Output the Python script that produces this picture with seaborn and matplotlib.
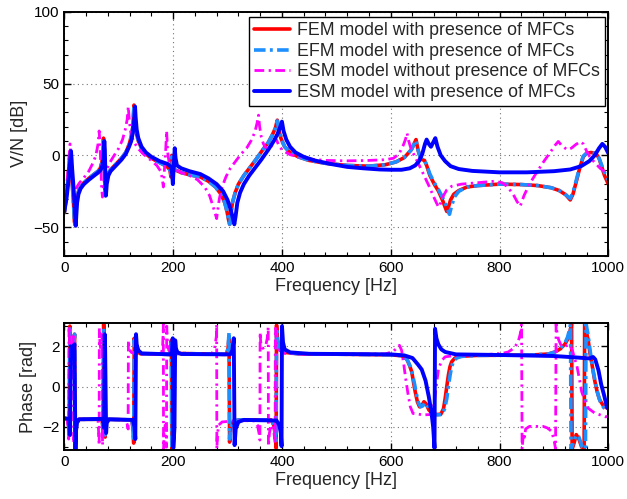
import numpy as np
import pandas as pd
import matplotlib
matplotlib.use("Agg")
import matplotlib.pyplot as plt
import seaborn as sns

# ---------------- magnitude (dB) ----------------
fem_mag_hz = [0, 3, 6, 8, 9.5, 10.5, 11.5, 13, 15, 17, 18.5, 19.5, 21, 23, 26, 30, 36, 45, 55, 62,
              66, 69, 71, 72, 73, 74, 75, 77, 80, 85, 95, 105, 113, 119, 123, 126, 128, 129.5, 132, 136,
              142, 150, 160, 175, 188, 194, 196, 197.5, 199, 203, 215, 230, 250, 265, 278, 288, 295, 299,
              302, 304, 306, 309, 314, 320, 330, 340, 352, 365, 375, 382, 388, 391.5, 394, 398, 405, 415,
              430, 450, 480, 520, 560, 590, 610, 625, 638, 643, 646.5, 650, 654, 658, 662, 666, 672, 680,
              688, 695, 700, 703, 706, 710, 716, 725, 740, 760, 800, 840, 870, 895, 910, 922, 930, 935,
              942, 948, 954, 960, 968, 977, 983, 988, 993, 1000]
fem_mag_db = [-40, -30, -20, -10, -3, 2, -3, -12, -22, -34, -46, -48, -38, -30, -25, -22, -19, -16, -13, -11,
              -9, -5, 2, 12, 3, -14, -28, -19, -13, -10, -6, -2, 2, 7.5, 13, 20, 35, 24, 16, 10,
              5, 1, -2, -5, -7.5, -10, -15, 0, -7, -10, -12, -13.5, -15, -18, -22, -27, -33, -39,
              -45, -48, -41, -33, -26, -20, -14, -9, -3, 4, 9, 14, 19, 24.5, 18, 12, 6, 2,
              -1, -3.5, -5.5, -7, -7.5, -6.5, -4.5, -1.5, 4, 8, 11, 4, -1, -3, -3.5, -7, -14, -20,
              -25, -31, -36, -39, -36, -31, -27, -24.5, -22, -21, -20, -20.3, -21, -22.5, -24.5, -27.5, -31, -27,
              -17, -8, -1, 1.5, 2, 1.5, -2, -8, -14, -20]

efm_mag_hz = [0, 3, 6, 8, 9.5, 10.5, 11.5, 13, 15, 17, 18.5, 19.5, 21, 23, 26, 30, 36, 45, 55, 62,
              66, 69, 71, 72, 73, 74, 75, 77, 80, 85, 95, 105, 113, 119, 123, 126, 128, 129.5, 132, 136,
              142, 150, 160, 175, 188, 194, 196, 197.5, 199, 203, 215, 230, 250, 265, 278, 288, 295, 299,
              302, 304, 306, 309, 314, 320, 330, 340, 352, 365, 375, 382, 388, 391.5, 394, 398, 405, 415,
              430, 450, 480, 520, 560, 590, 610, 625, 638, 643, 646.5, 650, 654, 658, 662, 666, 672, 680,
              688, 695, 700, 704, 708, 712, 717, 725, 740, 760, 800, 840, 870, 895, 910, 922, 930, 935,
              942, 948, 954, 960, 968, 977, 983, 988, 993, 1000]
efm_mag_db = [-40, -30, -20, -10, -3, 2, -3, -12, -22, -34, -46, -48, -38, -30, -25, -22, -19, -16, -13, -11,
              -9, -5, 2, 11, 3, -14, -28, -19, -13, -10, -6, -2, 2, 7.5, 13, 20, 33, 24, 16, 10,
              5, 1, -2, -5, -7.5, -10, -14, -1, -7, -10, -12, -13.5, -15, -18, -22, -27, -33, -39,
              -45, -48, -41, -33, -26, -20, -14, -9, -3, 4, 9, 14, 19, 24, 18, 12, 6, 2,
              -1, -3.5, -5.5, -7, -7.5, -6.5, -4.5, -1.5, 4, 8, 10.5, 4, -1, -3, -3.5, -6.5, -13, -19,
              -24, -29, -33, -37, -41, -35, -29, -25, -22, -21, -20, -20.3, -21, -22.5, -24.5, -27.5, -30, -26,
              -16, -7, -0.5, 1.5, 2, 1.5, -2, -7, -12, -17]

esm0_mag_hz = [0, 3, 6, 8, 9.5, 10.5, 11.5, 13, 15, 17, 18, 20, 23, 28, 35, 45, 53, 58, 62, 64,
               65.5, 67, 68.5, 70, 72, 76, 82, 90, 100, 107, 112, 115.5, 117.5, 119.5, 122, 127, 135, 145,
               158, 170, 177, 180, 182, 184, 186.5, 188, 190, 193, 200, 215, 230, 245, 258, 267, 273, 277,
               280, 282, 285, 290, 297, 305, 315, 325, 335, 343, 350, 354, 357, 359, 362, 366, 371, 375,
               379, 384, 388, 391, 395, 403, 415, 430, 450, 480, 520, 560, 590, 605, 615, 622, 627, 630,
               633, 637, 642, 650, 660, 670, 678, 684, 688, 692, 697, 703, 712, 730, 760, 790, 805, 815,
               825, 832, 838, 845, 855, 868, 880, 893, 902, 908, 914, 924, 932, 940, 948, 954, 960, 966,
               975, 985, 992, 1000]
esm0_mag_db = [-32, -24, -14, -5, 3, 8, 2, -8, -18, -28, -31, -27, -22, -19, -16, -11, -5, 0, 8, 17,
               8, -8, -22, -29, -20, -12, -6, -1, 5, 11, 18, 25, 34, 24, 16, 10, 5, 1,
               -3, -7, -11, -16, -22, -10, 5, 17, 2, -6, -9, -12, -14, -17, -22, -28, -35, -40,
               -44, -38, -30, -22, -15, -9, -4, 1, 5, 10, 16, 22, 28, 20, 13, 8, 5, 4,
               5, 9, 12, 10, 6, 3, 0.5, -1, -2.5, -3.5, -3.8, -3.5, -3, -2, 1, 6, 11, 15.5,
               10, 5, 1, -5, -13, -21, -28, -33, -36, -33, -28, -24, -21.5, -20, -19, -18, -19, -22,
               -27, -32, -35.4, -28, -20, -12, -5, 2, 7, 9.7, 7, 4, 5, 7.5, 9.5, 8, 3, -1,
               -5, -9, -11, -13]

esm_mag_hz = [0, 4, 7, 9, 10.5, 11.5, 12.3, 13.2, 14.5, 16.5, 18.5, 20, 21, 22, 23.5, 26, 30, 36, 45, 55,
              62, 67, 70, 72, 73.5, 74.5, 75.5, 76.5, 78, 81, 85, 95, 105, 113, 119, 123, 126, 128.5, 130, 131,
              133, 136, 142, 150, 160, 175, 190, 196, 198, 199.5, 201, 203, 204.5, 207, 215, 230, 250, 265,
              280, 292, 300, 306, 310, 312.5, 315, 318, 323, 330, 340, 350, 362, 375, 385, 392, 397, 400,
              403, 408, 415, 425, 440, 460, 490, 520, 550, 580, 600, 620, 635, 645, 652, 658, 663, 666,
              670, 674, 678, 682, 686, 692, 700, 710, 725, 750, 800, 850, 900, 930, 950, 965, 975, 983,
              989, 994, 1000]
esm_mag_db = [-39, -30, -20, -12, -5, 0, 3, -2, -10, -20, -32, -42, -49, -42, -33, -27, -23, -20, -17, -14,
              -12, -10, -7, -2, 10, 4, -15, -28, -20, -14, -11, -7, -3, 1, 6, 10, 16, 25, 34, 27,
              18, 12, 6, 2, -1, -4, -6, -8, -12, -20, -8, 5, -2, -7, -9, -11, -13, -16,
              -20, -25, -31, -38, -44, -48, -42, -33, -26, -20, -14, -9, -3, 4, 10, 15, 20, 23.5,
              17, 11, 6, 2, -1, -3.5, -6, -8, -9, -9.8, -10, -10, -9, -7, -4, 1, 8, 11,
              8, 6, 9, 12, 6, 0, -4, -7.5, -9.5, -10.8, -11.8, -11.8, -11, -9.8, -7.5, -4, 0, 5,
              8, 6, 1.5]

# ---------------- phase (rad) ----------------
fem_ph_hz = [0, 6, 8, 9, 10.2, 11, 13, 15.5, 17.5, 18.8, 19.8, 21, 23, 27, 69, 70.5, 71.3, 72.3, 73.3, 75,
             76.5, 80, 124, 126.5, 127.5, 128.5, 130, 133, 140, 194, 196, 196.8, 197.6, 198.5, 199.7, 201,
             205, 298, 301, 302.8, 303.8, 306, 311, 320, 380, 385, 388, 389.3, 390.1, 392, 396, 405, 430,
             600, 620, 629, 634, 638.6, 642, 645, 649, 653, 657, 661, 665, 670, 676, 684, 692, 697, 700,
             703, 706, 709, 712, 718, 726, 760, 860, 890, 902, 912, 920, 926, 930, 932.5, 933.5, 937, 941,
             946, 951, 955.5, 956.5, 959, 963, 966, 970, 975, 979, 984, 991, 1000]
fem_ph_rad = [-1.57, -1.6, -1.9, -2.4, 3.0, 2.4, 1.9, 1.8, 2.0, 2.6, -3.05, -2.3, -1.8, -1.62, -1.62, -1.9, -2.3, 3.1, 2.2, -2.5,
              -1.85, -1.62, -1.65, -2.1, -2.8, 2.4, 2.0, 1.75, 1.63, 1.6, 1.9, 2.3, -3.1, -2.5, 2.2, 1.8,
              1.65, 1.6, 1.9, 2.5, -2.75, -2.0, -1.72, -1.65, -1.65, -1.9, -2.4, -3.05, 3.05, 2.3, 1.85, 1.7, 1.63,
              1.58, 1.53, 1.39, 1.1, 0.74, 0.2, -0.25, -0.75, -1.0, -0.95, -0.75, -0.85, -1.15, -1.32, -1.38, -1.37, -1.1, -0.6,
              0.0, 0.57, 1.0, 1.23, 1.42, 1.5, 1.55, 1.57, 1.62, 1.72, 1.88, 2.1, 2.38, 2.8, 3.1, -3.1, -2.8, -2.38,
              -2.6, -3.0, -3.1, 3.1, 2.8, 2.3, 1.7, 1.1, 0.3, -0.2, -0.65, -0.95, -1.1]

efm_ph_hz = [0, 6, 8, 9, 10.2, 11, 13, 15.5, 17.5, 18.8, 19.8, 21, 23, 27, 69, 70.5, 71.3, 72.3, 73.3, 75,
             76.5, 80, 124, 126.5, 127.5, 128.5, 130, 133, 140, 194, 196, 196.8, 197.6, 198.5, 199.7, 201,
             205, 298, 301, 302.8, 303.8, 306, 311, 320, 380, 385, 388, 389.3, 390.1, 392, 396, 405, 430,
             600, 620, 630, 636, 640, 644, 647, 651, 655, 659, 663, 667, 672, 678, 686, 694, 699, 703,
             706, 709, 712, 715, 721, 730, 760, 860, 890, 902, 912, 920, 925, 928.5, 930.5, 931.5, 936, 941,
             946, 952, 958, 959, 962, 965, 968, 972, 977, 981, 986, 992, 1000]
efm_ph_rad = [-1.57, -1.6, -1.9, -2.4, 3.0, 2.4, 1.9, 1.8, 2.0, 2.6, -3.05, -2.3, -1.8, -1.62, -1.62, -1.9, -2.3, 2.9, 2.2, -2.4,
              -1.85, -1.62, -1.65, -2.1, -2.7, 2.3, 2.0, 1.75, 1.63, 1.6, 1.9, 2.3, -3.0, -2.5, 2.1, 1.8,
              1.65, 1.6, 1.9, 2.7, -2.6, -2.0, -1.72, -1.65, -1.65, -1.9, -2.4, -2.8, 2.9, 2.3, 1.85, 1.7, 1.63,
              1.58, 1.53, 1.35, 1.0, 0.6, 0.1, -0.35, -0.8, -1.0, -0.95, -0.8, -0.9, -1.2, -1.35, -1.4, -1.38, -1.1, -0.6,
              0.0, 0.55, 1.0, 1.23, 1.42, 1.5, 1.55, 1.57, 1.62, 1.72, 1.9, 2.15, 2.45, 2.8, 3.1, -3.1, -2.75, -2.4,
              -2.5, -3.0, -3.1, 3.1, 2.7, 2.1, 1.5, 0.8, 0.1, -0.4, -0.8, -1.05, -1.15]

esm0_ph_hz = [0, 5, 7, 8, 8.6, 9.5, 11, 13, 15.5, 16.5, 17.1, 18.5, 21, 26, 60, 62, 63.5, 64, 64.4, 65.5,
              67.5, 69, 69.8, 70.2, 71.5, 74, 80, 113, 116, 117.2, 117.8, 119, 123, 135, 178, 180.5, 181.6, 182,
              182.4, 183.5, 185.5, 187, 187.8, 188.2, 189.5, 192, 200, 270, 276, 279.5, 280, 280.4, 281.5, 284,
              290, 320, 350, 355, 358.5, 359.5, 359.9, 361, 365, 370, 373, 374.8, 375.2, 377, 380, 385, 387.5,
              388, 390, 395, 405, 450, 590, 605, 612, 616, 620, 624, 628, 632, 636, 641, 660, 675, 680,
              684, 688, 694, 700, 720, 780, 805, 816, 826, 834, 838, 840.5, 841.5, 843, 844.5, 846, 848, 855,
              880, 888, 895, 900, 903, 904, 906, 909, 914, 920, 928, 934, 938, 942, 946, 951, 957, 963,
              975, 987, 995, 1000]
esm0_ph_rad = [-1.57, -1.6, -2.0, -2.6, 3.0, 2.3, 1.9, 1.8, 2.0, 2.5, -2.8, -2.1, -1.75, -1.63, -1.62, -1.7, -2.5, -2.9, 2.9, 2.1,
               1.8, 2.1, 2.6, -2.9, -2.1, -1.75, -1.63, -1.65, -1.9, -2.1, 2.3, 1.9, 1.7, 1.6, 1.62, 1.9, 2.6, 3.1,
               -3.1, -2.3, -1.9, -2.3, -3.0, 3.0, 2.2, 1.8, 1.65, 1.6, 1.85, 2.5, 3.1, -3.1, -2.3, -1.9,
               -1.75, -1.68, -1.7, -1.9, -2.4, -2.65, 2.7, 2.2, 1.9, 2.0, 2.4, 2.96, -2.96, -2.3, -1.9, -2.2, -2.8,
               2.9, 2.2, 1.8, 1.65, 1.6, 1.62, 1.75, 1.95, 2.05, 1.8, 1.1, 0.3, -0.4, -1.0, -1.33, -1.4, -1.38, -0.8,
               0.1, 0.9, 1.3, 1.48, 1.55, 1.6, 1.65, 1.72, 1.9, 2.2, 2.6, 3.1, -3.1, -2.6, -2.3, -2.5, -2.1, -1.97,
               -1.97, -2.05, -2.2, -2.6, -3.1, 3.1, 2.6, 2.3, 2.0, 2.0, 2.1, 1.8, 1.4, 1.06, 0.5, -0.25, -0.7, -1.07,
               -1.31, -1.42, -1.5, -1.45]

esm_ph_hz = [0, 8, 9.5, 10.5, 11.8, 13, 15, 17, 18.5, 20.5, 21.5, 23, 27, 70, 72, 73, 74.2, 75, 76.8, 78,
             82, 126, 129, 130.5, 131.8, 133, 136, 142, 196, 198.5, 199.3, 200.3, 201.5, 202.5, 203.8, 205, 208,
             215, 305, 309, 311.5, 313, 315, 320, 330, 390, 395, 398, 399.3, 400.1, 402, 405, 415, 450,
             600, 625, 640, 650, 657, 664, 670, 675, 678, 680.5, 681.5, 684, 687.5, 693, 700, 720, 800, 900,
             940, 965, 972, 976, 982, 987, 992, 997, 1000]
esm_ph_rad = [-1.57, -1.6, -1.9, -2.4, 2.0, 1.9, 1.7, 1.8, 2.1, -3.1, -2.2, -1.8, -1.62, -1.6, -1.8, -2.05, 2.6, 1.9, -2.3, -1.8,
              -1.62, -1.65, -2.0, -2.6, 2.6, 2.1, 1.8, 1.65, 1.6, 1.9, 2.4, -3.05, -2.5, -2.0, 2.3, 1.9, 1.7,
              1.62, 1.6, 1.8, 2.4, -2.9, -2.1, -1.75, -1.65, -1.68, -1.9, -2.3, -2.95, 3.0, 2.2, 1.85, 1.7, 1.63,
              1.6, 1.55, 1.42, 1.1, 0.85, 0.3, -0.5, -1.3, -2.0, -3.05, 2.87, 2.4, 2.1, 1.85, 1.72, 1.6, 1.57, 1.52,
              1.45, 1.4, 1.47, 1.35, 0.8, 0.1, -0.4, -0.95, -1.1]

labels = ["FEM model with presence of MFCs",
          "EFM model with presence of MFCs",
          "ESM model without presence of MFCs",
          "ESM model with presence of MFCs"]

# ---------------- styling ----------------
sns.set_theme(style="ticks")
plt.rcParams["font.family"] = ["Liberation Sans", "DejaVu Sans"]
plt.rcParams["axes.unicode_minus"] = True

series = [
    dict(mag=(fem_mag_hz, fem_mag_db), ph=(fem_ph_hz, fem_ph_rad), color="#ff0000", lw=2.6, ls="-"),
    dict(mag=(efm_mag_hz, efm_mag_db), ph=(efm_ph_hz, efm_ph_rad), color="#1e8fff", lw=2.6,
         ls=(0, (3.2, 1.2, 0.8, 1.2))),
    dict(mag=(esm0_mag_hz, esm0_mag_db), ph=(esm0_ph_hz, esm0_ph_rad), color="#ff00ff", lw=2.0,
         ls=(0, (3.5, 1.6, 0.8, 1.6))),
    dict(mag=(esm_mag_hz, esm_mag_db), ph=(esm_ph_hz, esm_ph_rad), color="#0000ff", lw=2.8, ls="-"),
]

fig = plt.figure(figsize=(6.27, 4.99), dpi=100)
ax1 = fig.add_axes([0.1026, 0.4870, 0.8676, 0.4896])
ax2 = fig.add_axes([0.1026, 0.0982, 0.8676, 0.2539])

for s, lab in zip(series, labels):
    df_m = pd.DataFrame({"f": s["mag"][0], "v": s["mag"][1]})
    df_p = pd.DataFrame({"f": s["ph"][0], "v": s["ph"][1]})
    sns.lineplot(data=df_m, x="f", y="v", ax=ax1, color=s["color"], lw=s["lw"], linestyle=s["ls"],
                 estimator=None, sort=False, label=lab)
    sns.lineplot(data=df_p, x="f", y="v", ax=ax2, color=s["color"], lw=s["lw"], linestyle=s["ls"],
                 estimator=None, sort=False, legend=False)

for ax in (ax1, ax2):
    ax.set_xlim(0, 1000)
    ax.set_xticks([0, 200, 400, 600, 800, 1000])
    ax.set_xticks(np.arange(0, 1001, 40), minor=True)
    ax.grid(True, which="major", color="0.45", linestyle=(0, (1, 3)), linewidth=0.8)
    ax.tick_params(which="both", direction="in", top=True, right=True, labelsize=11, colors="black")
    ax.tick_params(which="major", length=5, width=1.0)
    ax.tick_params(which="minor", length=3, width=0.8)
    for sp in ax.spines.values():
        sp.set_visible(True)
        sp.set_linewidth(1.4)
        sp.set_color("black")
    ax.set_xlabel("Frequency [Hz]", fontsize=13, labelpad=2)
    ax.set_facecolor("white")

ax1.set_ylim(-70, 100)
ax1.set_yticks([-50, 0, 50, 100])
ax1.set_yticks(np.arange(-70, 101, 10), minor=True)
ax1.set_ylabel("V/N [dB]", fontsize=13, labelpad=4)

ax2.set_ylim(-np.pi, np.pi)
ax2.set_yticks([-2, 0, 2])
ax2.set_yticks([-3, -1, 1, 3], minor=True)
ax2.set_ylabel("Phase [rad]", fontsize=13, labelpad=4)

leg = ax1.legend(loc="upper right", bbox_to_anchor=(0.994, 0.978), borderaxespad=0,
                 fontsize=12.8, frameon=True, fancybox=False, framealpha=1, edgecolor="black",
                 handlelength=2.0, handletextpad=0.4, labelspacing=0.2, borderpad=0.3)
leg.get_frame().set_linewidth(1.0)

fig.savefig("out.png", dpi=100, facecolor="white")
